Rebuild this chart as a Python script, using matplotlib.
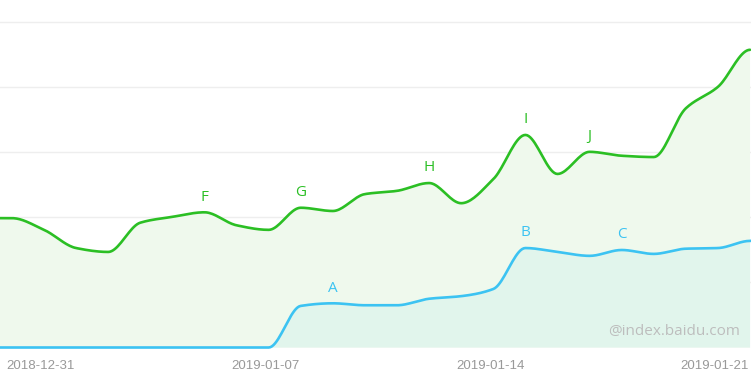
import numpy as np
import pandas as pd
import matplotlib
matplotlib.use("Agg")
import matplotlib.pyplot as plt
import matplotlib.dates as mdates
import matplotlib.transforms as mtransforms

# daily values, 2018-12-29 .. 2019-01-22
dates = pd.date_range("2018-12-29", "2019-01-22", freq="D")
green_vals = [199, 199, 181, 153, 147, 192, 201, 208, 188, 181, 215, 210, 236,
              241, 253, 222, 259, 327, 267, 301, 295, 293, 368, 401, 458]
blue_vals = [0, 0, 0, 0, 0, 0, 0, 0, 0, 0, 64, 68, 65, 65, 75, 79, 90,
             153, 147, 141, 150, 144, 152, 153, 164]

green_notes = {"2019-01-05": "F", "2019-01-08": "G", "2019-01-12": "H",
               "2019-01-15": "I", "2019-01-17": "J"}
blue_notes = {"2019-01-09": "A", "2019-01-15": "B", "2019-01-18": "C"}

tick_dates = ["2018-12-31", "2019-01-07", "2019-01-14", "2019-01-21"]


def smooth(x, y, n=20):
    # monotone cubic hermite, only for drawing the curve
    x = np.asarray(x, float)
    y = np.asarray(y, float)
    h = np.diff(x)
    d = np.diff(y) / h
    m = np.zeros_like(y)
    m[0], m[-1] = d[0], 0.0
    for i in range(1, len(y) - 1):
        if d[i - 1] * d[i] > 0:
            m[i] = 2 / (1 / d[i - 1] + 1 / d[i])
    xs, ys = [], []
    for i in range(len(h)):
        t = np.linspace(0, 1, n, endpoint=False)
        h00 = 2 * t**3 - 3 * t**2 + 1
        h10 = t**3 - 2 * t**2 + t
        h01 = -2 * t**3 + 3 * t**2
        h11 = t**3 - t**2
        xs.append(x[i] + t * h[i])
        ys.append(h00 * y[i] + h10 * h[i] * m[i] + h01 * y[i + 1] + h11 * h[i] * m[i + 1])
    xs.append([x[-1]])
    ys.append([y[-1]])
    return np.concatenate(xs), np.concatenate(ys)


green_c = "#2bbf24"
blue_c = "#3cc3f2"

fig = plt.figure(figsize=(7.51, 3.80), dpi=100)
ax = fig.add_axes([0, 32.5 / 380, 1, 347.5 / 380])

xnum = mdates.date2num(dates)
gx, gy = smooth(xnum, green_vals)
bx, by = smooth(xnum, blue_vals)

ax.fill_between(gx, gy, 0, color="#eff9ed", lw=0, zorder=1)
ax.fill_between(bx, by, 0, color="#e1f5ec", lw=0, zorder=2)
ax.plot(gx, gy, color=green_c, lw=1.9, zorder=4, solid_capstyle="round")
ax.plot(bx, by, color=blue_c, lw=1.9, zorder=4, clip_on=False)

day_str = list(dates.strftime("%Y-%m-%d"))
for d, txt in green_notes.items():
    i = day_str.index(d)
    ax.annotate(txt, (xnum[i], green_vals[i]), xytext=(0, 5.5), textcoords="offset points",
                ha="center", va="bottom", color=green_c, fontsize=11, family="Open Sans")
for d, txt in blue_notes.items():
    i = day_str.index(d)
    ax.annotate(txt, (xnum[i], blue_vals[i]), xytext=(0, 5.5), textcoords="offset points",
                ha="center", va="bottom", color=blue_c, fontsize=11, family="Open Sans")

x0 = mdates.date2num(pd.Timestamp("2018-12-31"))
ax.set_xlim(x0 - 44 / 32.1, x0 + 22.03)
ax.set_ylim(0, 534.6)
ax.set_yticks([100, 200, 300, 400, 500])
ax.grid(axis="y", color="#eeeeee", lw=1)
ax.set_axisbelow(True)
ax.set_xticks(mdates.date2num(pd.to_datetime(tick_dates)))
ax.set_xticklabels(tick_dates, family="Liberation Sans")
ax.tick_params(axis="x", length=0, pad=9, labelsize=9.5, labelcolor="#999999")
ax.tick_params(axis="y", length=0, labelleft=False)
shift = mtransforms.ScaledTranslation(-3 / 100, 0, fig.dpi_scale_trans)
for lab in ax.get_xticklabels():
    lab.set_transform(lab.get_transform() + shift)
for s in ax.spines.values():
    s.set_visible(False)

ax.text(0.985, 0.047, "@index.baidu.com", transform=ax.transAxes, ha="right",
        va="center", fontsize=11, color="#bdbdbd", family="Open Sans", zorder=5)

fig.savefig("out.png", dpi=100)
